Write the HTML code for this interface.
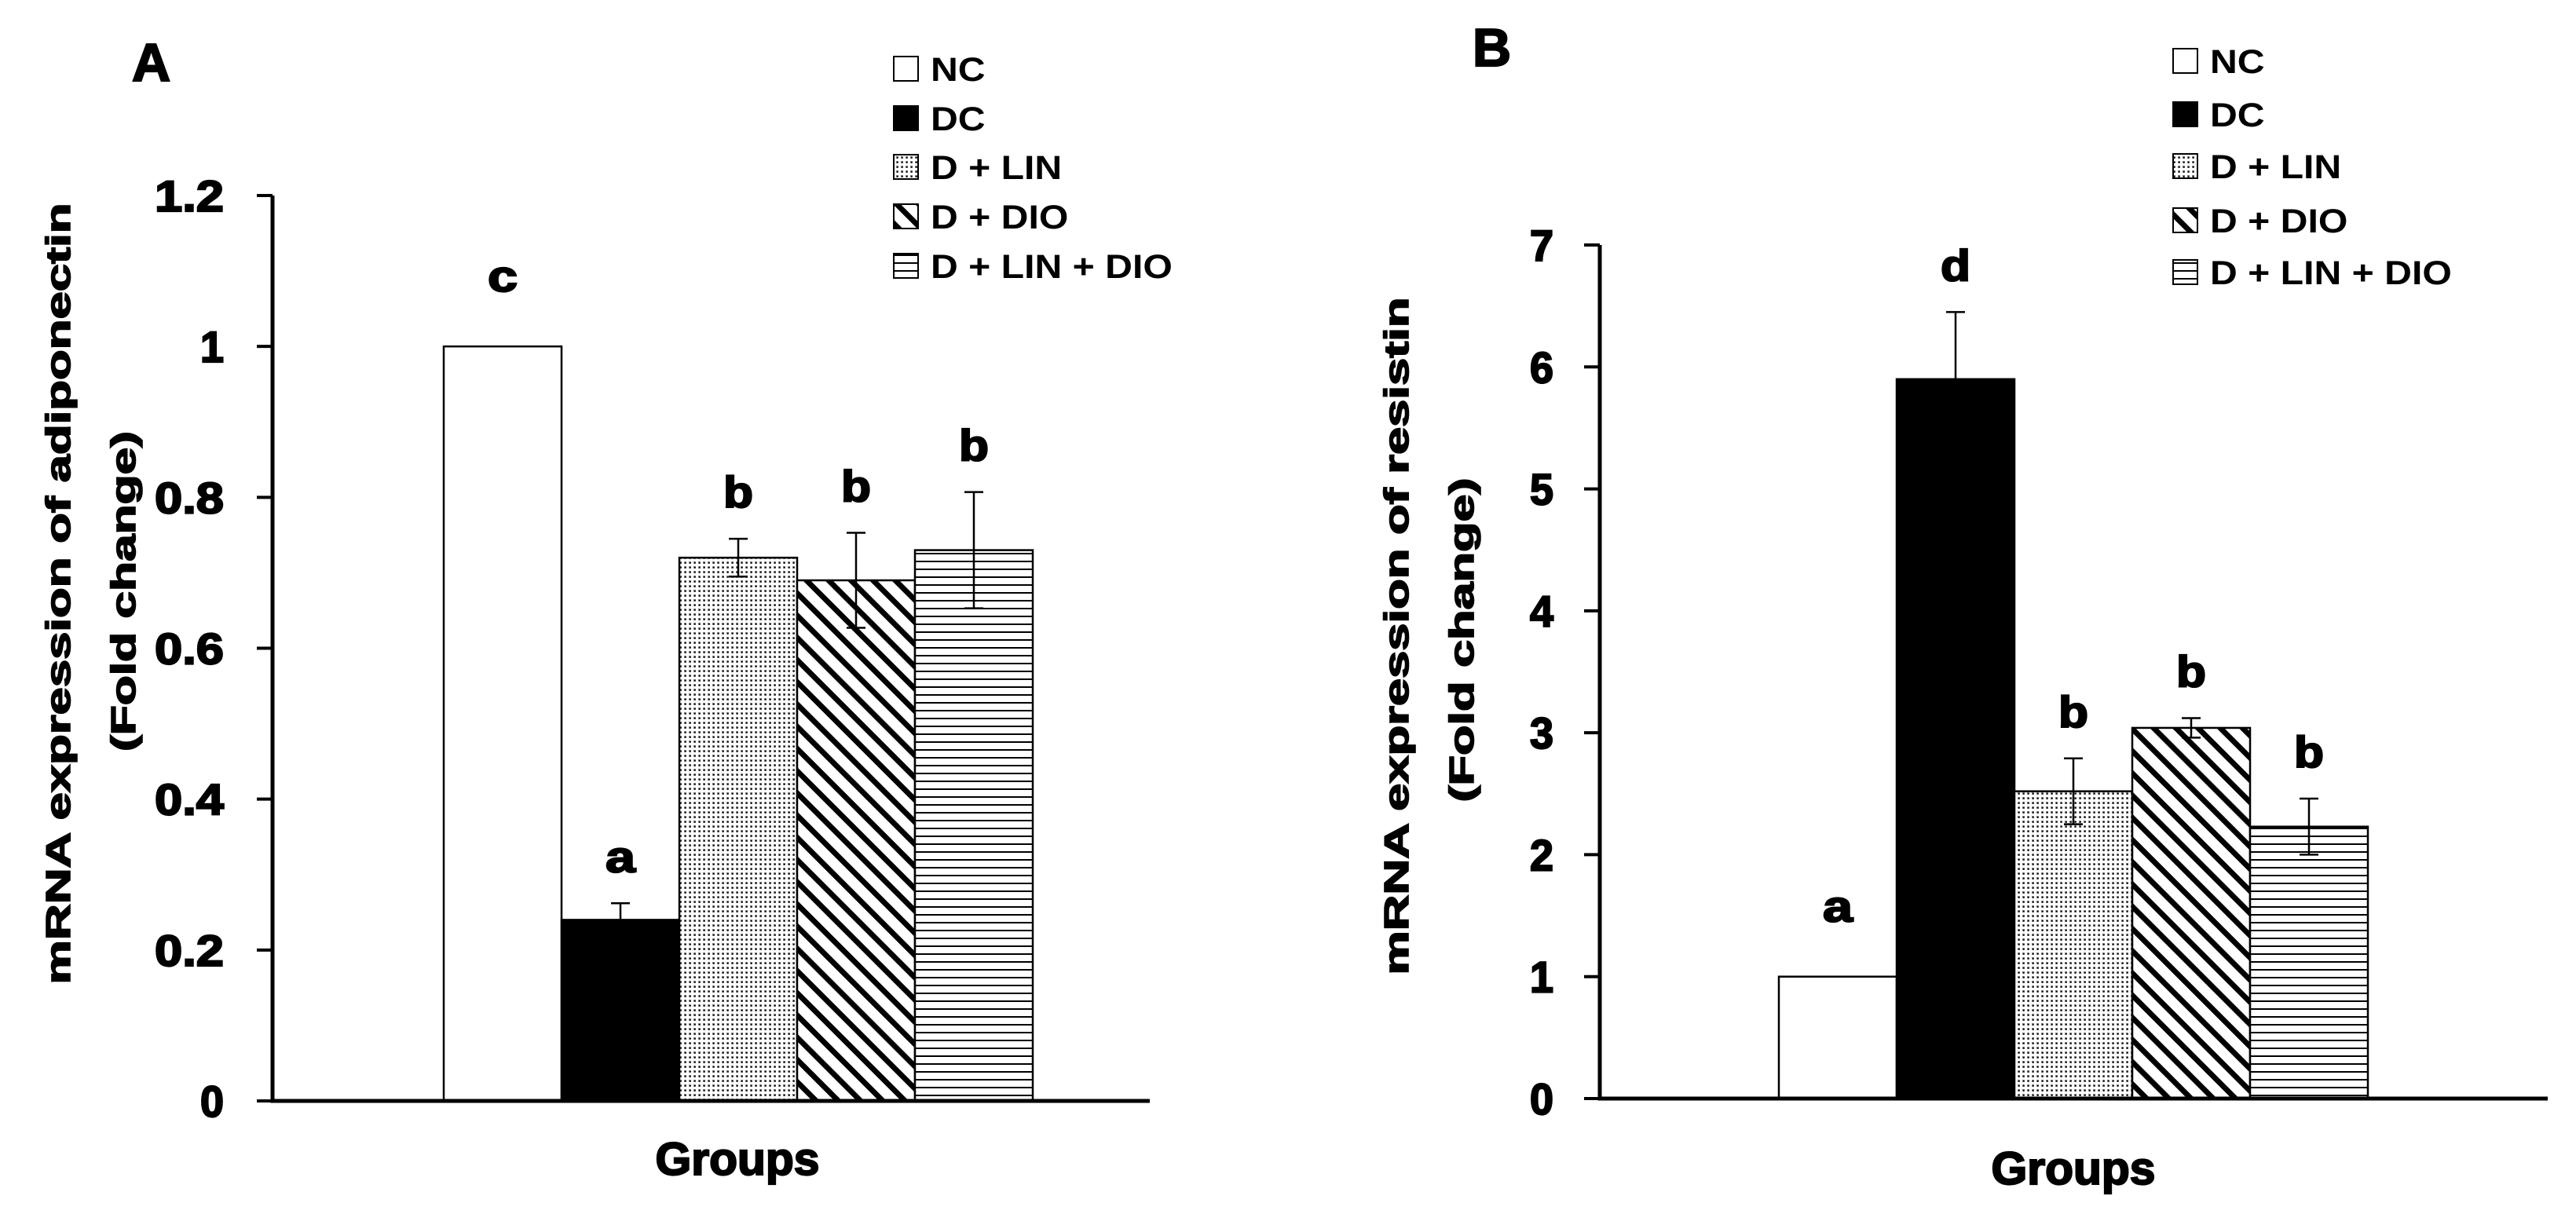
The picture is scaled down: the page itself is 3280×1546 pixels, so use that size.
<!DOCTYPE html>
<html><head><meta charset="utf-8"><style>
html,body{margin:0;padding:0;background:#fff;}
svg{display:block;font-family:"Liberation Sans",Arial,sans-serif;font-weight:bold;}
</style></head><body>
<svg id="chart" width="3280" height="1546" viewBox="0 0 3280 1546" xmlns="http://www.w3.org/2000/svg">
<defs>
<pattern id="pDots" width="6" height="6" patternUnits="userSpaceOnUse"><rect width="6" height="6" fill="#fff"/><rect x="1" y="1" width="3" height="3" fill="#777"/><rect x="2" y="2" width="1.5" height="1.5" fill="#000"/></pattern>
<pattern id="pDiag" width="20" height="20" patternUnits="userSpaceOnUse" patternTransform="rotate(-45)"><rect width="20" height="20" fill="#fff"/><rect x="0" y="0" width="7" height="20" fill="#000"/></pattern>
<pattern id="pHoriz" width="10" height="10" patternUnits="userSpaceOnUse"><rect width="10" height="10" fill="#fff"/><rect x="0" y="4" width="10" height="2" fill="#000"/></pattern>
</defs>
</svg>
<script>
const groups = ["NC","DC","D + LIN","D + DIO","D + LIN + DIO"];
const adipoValues = [1.0, 0.24, 0.72, 0.69, 0.73];
const adipoErr = [0, 0.022, 0.025, 0.063, 0.077];
const adipoLetters = ["c","a","b","b","b"];
const adipoTicks = ["0","0.2","0.4","0.6","0.8","1","1.2"];
const resistValues = [1.0, 5.9, 2.52, 3.04, 2.23];
const resistErr = [0, 0.55, 0.27, 0.08, 0.23];
const resistLetters = ["a","d","b","b","b"];
const resistTicks = ["0","1","2","3","4","5","6","7"];
const fills = ["#fff","#000","url(#pDots)","url(#pDiag)","url(#pHoriz)"];

const svg = document.getElementById('chart');
const NS = "http://www.w3.org/2000/svg";
function mk(tag, attrs, parent){ const e=document.createElementNS(NS,tag); for(const k in attrs) e.setAttribute(k,attrs[k]); (parent||svg).appendChild(e); return e; }
const heavy = {stroke:'#000','stroke-width':2.2,'paint-order':'stroke','lengthAdjust':'spacingAndGlyphs'};
function hv(attrs){ return Object.assign({}, heavy, attrs); }

function panel(cfg){
  const g = mk('g',{});
  
  
  const y = v => cfg.y0 - (v/cfg.max)*(cfg.y0-cfg.yTop);
  cfg.values.forEach((v,i)=>{
    const x = cfg.barX + i*cfg.barW;
    const r = mk('rect',{x:x,y:y(v),width:cfg.barW,height:cfg.y0-y(v),fill:fills[i],stroke:'#000','stroke-width':2.5},g);
    
    
    const e = cfg.err[i];
    const cx = x+cfg.barW/2;
    if(e>0){
      const eb = mk('path',{d:`M${cx},${y(v+e)}V${y(v-e)}M${cx-12},${y(v+e)}H${cx+12}M${cx-12},${y(v-e)}H${cx+12}`,stroke:'#000','stroke-width':2.5,fill:'none'},g);
      
      
    }
    const gap = e>0 ? 40 : 70;
    const t = mk('text',hv({x:cx,y:y(v+e)-gap,'text-anchor':'middle','font-size':56,textLength:38}),g);
    t.textContent = cfg.letters[i];
    
    
  });
  const ax = mk('path',{d:`M${cfg.axX},${y(cfg.max)}V${cfg.y0}H${cfg.axEnd}`,stroke:'#000','stroke-width':5,fill:'none'},g);
  
  
  cfg.ticks.forEach((lab,i)=>{
    const v = cfg.max*i/(cfg.ticks.length-1);
    mk('line',{x1:cfg.axX-20,x2:cfg.axX,y1:y(v),y2:y(v),stroke:'#000','stroke-width':4},g);
    const w = lab.replace('.','').length*30 + (lab.includes('.')?28:0);
    const t = mk('text',hv({x:cfg.tickRight,y:y(v)+20,'text-anchor':'end','font-size':56,textLength:w}),g);
    t.textContent = lab;
    
    
  });
  const yt = mk('g',{},g);
  
  
  const l1 = mk('text',hv({transform:`translate(${cfg.t1x},${cfg.t1y}) rotate(-90)`,'text-anchor':'middle','font-size':44,textLength:cfg.t1len,'stroke-width':1.6}),yt);
  l1.textContent = cfg.title;
  const l2 = mk('text',hv({transform:`translate(${cfg.t2x},${cfg.t2y}) rotate(-90)`,'text-anchor':'middle','font-size':44,textLength:cfg.t2len,'stroke-width':1.6}),yt);
  l2.textContent = "(Fold change)";
  const xt = mk('text',hv({x:cfg.groupsX,y:cfg.groupsY,'text-anchor':'middle','font-size':58,textLength:209}),g);
  xt.textContent = "Groups";
  
  
  const pl = mk('text',hv({x:cfg.letX,y:cfg.letY,'font-size':68}),g);
  pl.textContent = cfg.label;
  
  
  groups.forEach((name,i)=>{
    const ly = cfg.legY[i];
    const le = mk('g',{},g);
    
    
    mk('rect',{x:cfg.legX,y:ly-31,width:31,height:31,fill:fills[i],stroke:'#000','stroke-width':2},le);
    const t = mk('text',{x:cfg.legX+47,y:ly,'font-size':43},le);
    t.textContent = name;
    const L = t.getComputedTextLength();
    if(L>0){ t.setAttribute('textLength', (L*1.12).toFixed(1)); t.setAttribute('lengthAdjust','spacingAndGlyphs'); }
  });
}

panel({name:'panel-a-adiponectin',values:adipoValues,err:adipoErr,letters:adipoLetters,ticks:adipoTicks,max:1.2,
  y0:1402,yTop:249,axX:347,axEnd:1464,barX:565,barW:150,tickRight:285,
  title:"mRNA expression of adiponectin",t1x:89,t1y:756,t1len:995,t2x:172,t2y:753,t2len:408,
  groupsX:939,groupsY:1496,label:"A",letX:168,letY:103,
  legX:1138,legY:[103,166,228,291,354]});
panel({name:'panel-b-resistin',values:resistValues,err:resistErr,letters:resistLetters,ticks:resistTicks,max:7,
  y0:1399,yTop:312,axX:2037,axEnd:3244,barX:2265,barW:150,tickRight:1978,
  title:"mRNA expression of resistin",t1x:1793,t1y:810,t1len:863,t2x:1876,t2y:815,t2len:413,
  groupsX:2640,groupsY:1508,label:"B",letX:1875,letY:84,
  legX:2767,legY:[93,161,227,296,362]});
</script>
</body></html>
